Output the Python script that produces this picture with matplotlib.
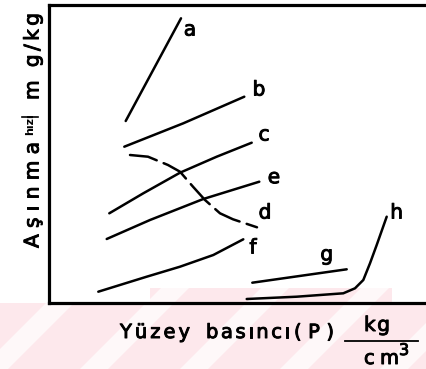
import matplotlib
matplotlib.use("Agg")
import matplotlib.pyplot as plt
import matplotlib.patheffects as pe
from matplotlib.patches import Polygon, Rectangle
from matplotlib.lines import Line2D
from matplotlib.textpath import TextToPath
from matplotlib.font_manager import FontProperties

# Wear curves: surface pressure (x) vs. wear (y), arbitrary units
a_x = [76.7, 132.0]
a_y = [182.0, 284.7]

b_x = [75.3, 134.3, 195.3]
b_y = [156.3, 179.7, 206.3]

c_x = [60.3, 94.3, 131.0, 167.7, 202.7]
c_y = [89.7, 109.7, 130.3, 146.3, 160.3]

d_x = [81.0, 99.0, 119.0, 131.0, 144.0, 156.0, 171.0, 184.0, 208.0]
d_y = [148.0, 146.3, 138.0, 131.3, 116.3, 103.0, 89.7, 83.7, 75.7]

e_x = [57.7, 101.0, 154.3, 210.3]
e_y = [64.0, 83.0, 104.0, 121.3]

f_x = [49.3, 97.7, 131.0, 164.3, 194.3]
f_y = [11.3, 26.3, 36.3, 48.0, 63.7]

g_x = [203.3, 297.7]
g_y = [20.3, 33.7]

h_x = [197.7, 247.7, 294.3, 306.0, 314.3, 321.0, 327.7, 337.7]
h_y = [4.0, 6.3, 9.7, 14.7, 23.0, 39.7, 58.0, 86.3]

labels = ["a", "b", "c", "d", "e", "f", "g", "h"]
label_x = [141, 210, 215, 216, 225, 204, 277.7, 347.7]
label_y = [273, 213, 168, 90, 125.3, 55, 48, 90]

x_words = ["Yüzey", "basıncı", "(P)"]
y_words = ["Aşınma", "m g/kg"]

W, H = 427.0, 369.0
DPI = 100
fig = plt.figure(figsize=(W / DPI, H / DPI), dpi=DPI)
heavy = [pe.withStroke(linewidth=0.7, foreground="black")]
_ttp = TextToPath()


def char_width_px(ch, size):
    prop = FontProperties(family="DejaVu Sans", size=size)
    w, _, _ = _ttp.get_text_width_height_descent(ch, prop, ismath=False)
    return w * DPI / 72.0


def letterspaced(text, start, end, base, size, vertical=False):
    """Draw text letter by letter so that it runs from start to end (pixels)."""
    widths = [char_width_px(ch, size) for ch in text]
    span = abs(end - start)
    gap = (span - sum(widths)) / max(len(text) - 1, 1)
    pos = 0.0
    for ch, w in zip(text, widths):
        if vertical:
            xy = (base / W, 1 - (start - pos) / H)
            rot = 90
        else:
            xy = ((start + pos) / W, 1 - base / H)
            rot = 0
        fig.text(xy[0], xy[1], ch, fontsize=size, rotation=rot,
                 rotation_mode="anchor", ha="left", va="baseline",
                 path_effects=heavy)
        pos += w + gap


# faint pink band with diagonal light stripes along the bottom
pink = "#fde8ec"
fig.patches.append(Rectangle((0, 0), 1, 66 / H, transform=fig.transFigure,
                             facecolor=pink, edgecolor="none", zorder=-10))
fig.patches.append(Rectangle((150 / W, 66 / H), 242 / W, 15 / H,
                             transform=fig.transFigure, facecolor=pink,
                             edgecolor="none", zorder=-10))
for x0 in [-120, -20, 80, 180, 280, 380]:
    pts = [(x0 / W, 0), ((x0 + 28) / W, 0), ((x0 + 28 + 81) / W, 81 / H),
           ((x0 + 81) / W, 81 / H)]
    fig.patches.append(Polygon(pts, closed=True, transform=fig.transFigure,
                               facecolor="white", edgecolor="none",
                               alpha=0.7, zorder=-9))

ax = fig.add_axes([49 / W, 66 / H, 391 / W, 298 / H])
ax.patch.set_alpha(0)
ax.set_xlim(0, 391)
ax.set_ylim(0, 298)
ax.set_xticks([])
ax.set_yticks([])
ax.spines["right"].set_visible(False)
for s in ["left", "top", "bottom"]:
    ax.spines[s].set_linewidth(2.3)
    ax.spines[s].set_color("black")

lw = 1.8
kw = dict(color="black", lw=lw, solid_capstyle="round", solid_joinstyle="round")
for xs, ys in [(a_x, a_y), (b_x, b_y), (c_x, c_y), (e_x, e_y),
               (f_x, f_y), (g_x, g_y), (h_x, h_y)]:
    ax.plot(xs, ys, **kw)
ax.plot(d_x, d_y, color="black", lw=lw, linestyle=(0, (11, 3)),
        dash_capstyle="round")

for t, x, y in zip(labels, label_x, label_y):
    ax.text(x, y, t, fontsize=14.5, ha="center", va="center",
            path_effects=heavy)

# x title: words with wide letter spacing, then the kg / cm^3 fraction
for word, (x0, x1) in zip(x_words, [(120, 190), (206, 290), (294, 334)]):
    letterspaced(word, x0, x1, 338, 14)
letterspaced("kg", 364, 390, 331, 14.5)
fig.lines.append(Line2D([345 / W, 418 / W], [1 - 341 / H, 1 - 341 / H],
                        transform=fig.transFigure, color="black", lw=1.3))
letterspaced("cm", 364, 399, 364, 14)
fig.text(399 / W, 1 - 355 / H, "3", fontsize=11.5, ha="left", va="baseline",
         path_effects=heavy)

# y title: "Aşınma", a struck-out word, then the unit
letterspaced(y_words[0], 248, 142, 38.5, 14.5, vertical=True)
fig.text(30 / W, 1 - 124 / H, "hızı", fontsize=8, rotation=90,
         ha="center", va="center", fontweight="bold")
fig.lines.append(Line2D([22 / W, 38 / W], [1 - 117 / H, 1 - 117 / H],
                        transform=fig.transFigure, color="black", lw=1.2))
letterspaced(y_words[1], 100, 13, 38.5, 14.5, vertical=True)

fig.savefig("out.png", dpi=DPI)
